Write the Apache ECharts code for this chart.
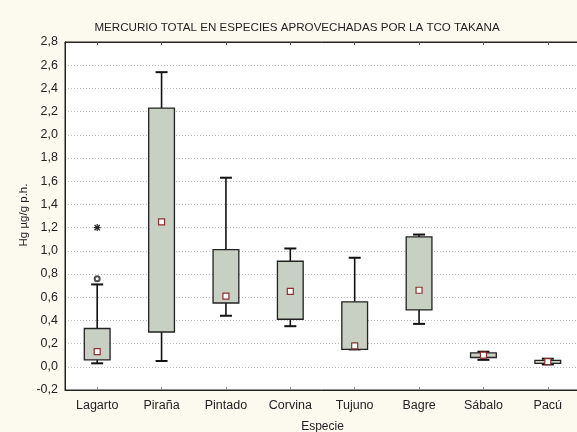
<!DOCTYPE html>
<html><head><meta charset="utf-8">
<script src="https://cdn.jsdelivr.net/npm/echarts@6/dist/echarts.min.js"></script>
<style>html,body{margin:0;padding:0;background:#fcfaef;}#c{width:577px;height:432px;}</style>
</head><body><div id="c"></div>
<script>
var categories = ['Lagarto','Piraña','Pintado','Corvina','Tujuno','Bagre','Sábalo','Pacú'];
// [whiskerLow, q1, median, q3, whiskerHigh]
var boxValues = [
  [0.03, 0.06, 0.13, 0.33, 0.71],
  [0.05, 0.30, 1.25, 2.23, 2.54],
  [0.44, 0.55, 0.61, 1.01, 1.63],
  [0.35, 0.41, 0.65, 0.91, 1.02],
  [0.15, 0.15, 0.18, 0.56, 0.94],
  [0.37, 0.49, 0.66, 1.12, 1.14],
  [0.06, 0.08, 0.10, 0.12, 0.13],
  [0.02, 0.03, 0.045, 0.055, 0.07]
];
var outliers = [[0, 0.76]];
var extremes = [[0, 1.20]];
var yTicks = [-0.2,0,0.2,0.4,0.6,0.8,1.0,1.2,1.4,1.6,1.8,2.0,2.2,2.4,2.6,2.8];
var yName = 'Hg µg/g p.h.';

var boxData = boxValues.map(function(v,i){return [i].concat(v);});
var FONT = 'Liberation Sans';
var chart = echarts.init(document.getElementById('c'));
chart.setOption({
  backgroundColor: '#fcfaef',
  animation: false,
  title: {text: 'MERCURIO TOTAL EN ESPECIES APROVECHADAS POR LA TCO TAKANA', left: 292, top: 17, textAlign: 'center',
    textStyle: {fontFamily: FONT, fontSize: 11.6, fontWeight: 'normal', color: '#222'}},
  graphic: [{type: 'text', x: 24, y: 215, rotation: Math.PI/2,
    style: {text: yName, fontFamily: FONT, fontSize: 11.5, fill: '#222', textAlign: 'center', textVerticalAlign: 'middle'}}],
  grid: {left: 65, top: 42, width: 515, height: 348, show: true, backgroundColor: '#fff', borderColor: '#222', borderWidth: 1,
    containLabel: false, outerBoundsMode: 'none'},
  xAxis: [{
    type: 'category', data: categories, position: 'bottom',
    name: 'Especie', nameLocation: 'middle', nameGap: 31,
    nameTextStyle: {fontFamily: FONT, fontSize: 12, color: '#222'},
    axisLine: {onZero: false, lineStyle: {color: '#222', width: 1}},
    axisTick: {show: true, inside: true, alignWithLabel: true, length: 3, lineStyle: {color: '#888'}},
    axisLabel: {fontFamily: FONT, fontSize: 12.5, color: '#222', margin: 9},
    splitLine: {show: false}
  },{
    type: 'category', data: categories, position: 'top',
    axisLine: {onZero: false, lineStyle: {color: '#222'}},
    axisTick: {show: true, inside: true, alignWithLabel: true, length: 3, lineStyle: {color: '#555'}},
    axisLabel: {show: false}
  }],
  yAxis: {
    type: 'value', min: -0.2, max: 2.8, interval: 0.2,
    axisLine: {show: true, onZero: false, lineStyle: {color: '#222'}},
    axisTick: {show: false},
    axisLabel: {fontFamily: FONT, fontSize: 12.5, color: '#222', margin: 7,
      formatter: function(v){ return v.toFixed(1).replace('.', ','); }},
    splitLine: {show: true, lineStyle: {color: '#bbb', type: [1,2], width: 1}}
  },
  series: [{
    type: 'custom',
    data: boxData,
    encode: {x: 0, y: [1,2,3,4,5]},
    z: 3,
    renderItem: function(params, api){
      var i = api.value(0);
      var lo = api.coord([i, api.value(1)]);
      var q1 = api.coord([i, api.value(2)]);
      var md = api.coord([i, api.value(3)]);
      var q3 = api.coord([i, api.value(4)]);
      var hi = api.coord([i, api.value(5)]);
      var x = lo[0];
      var bw = api.size([1,0])[0] * 0.4;
      var cw = 12;
      var ls = {stroke: '#111', lineWidth: 1.6, fill: null};
      return {type: 'group', children: [
        {type: 'line', shape: {x1: x, y1: hi[1], x2: x, y2: q3[1]}, style: ls},
        {type: 'line', shape: {x1: x, y1: lo[1], x2: x, y2: q1[1]}, style: ls},
        {type: 'line', shape: {x1: x - cw/2, y1: hi[1], x2: x + cw/2, y2: hi[1]}, style: {stroke: '#111', lineWidth: 2}},
        {type: 'line', shape: {x1: x - cw/2, y1: lo[1], x2: x + cw/2, y2: lo[1]}, style: {stroke: '#111', lineWidth: 2}},
        {type: 'rect', shape: {x: x - bw/2, y: q3[1], width: bw, height: Math.max(q1[1]-q3[1], 1)},
          style: {fill: '#c8d0c3', stroke: '#222', lineWidth: 1.3}},
        {type: 'rect', shape: {x: x - 3, y: md[1] - 3, width: 6, height: 6},
          style: {fill: '#fff', stroke: '#8a3030', lineWidth: 1.2}}
      ]};
    }
  },{
    type: 'scatter', data: outliers, symbol: 'emptyCircle', symbolSize: 5, z: 4,
    itemStyle: {color: '#222', borderColor: '#222', borderWidth: 1}
  },{
    type: 'custom', data: extremes, z: 4,
    renderItem: function(params, api){
      var p = api.coord([api.value(0), api.value(1)]);
      var r = 3.5, s = {stroke: '#222', lineWidth: 1.2};
      return {type: 'group', children: [
        {type: 'line', shape: {x1: p[0]-r, y1: p[1], x2: p[0]+r, y2: p[1]}, style: s},
        {type: 'line', shape: {x1: p[0], y1: p[1]-r, x2: p[0], y2: p[1]+r}, style: s},
        {type: 'line', shape: {x1: p[0]-r*0.75, y1: p[1]-r*0.75, x2: p[0]+r*0.75, y2: p[1]+r*0.75}, style: s},
        {type: 'line', shape: {x1: p[0]-r*0.75, y1: p[1]+r*0.75, x2: p[0]+r*0.75, y2: p[1]-r*0.75}, style: s}
      ]};
    }
  }]
});
</script></body></html>
